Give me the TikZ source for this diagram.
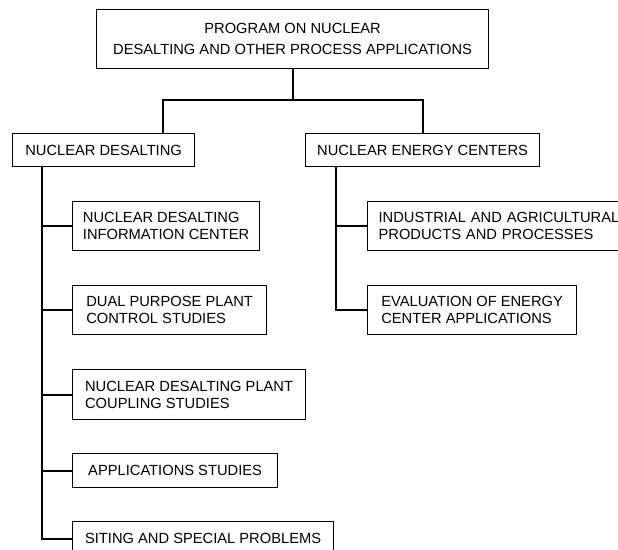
\documentclass[tikz,border=0pt]{standalone}
\usepackage{fontspec}
\setmainfont{Liberation Sans}
\tikzset{
  chartbox/.style={draw, line width=1.2pt, inner sep=0pt, align=left, anchor=north west,
    font=\fontsize{14.7}{17.3}\selectfont},
  link/.style={line width=2pt, line cap=rect},
}
\begin{document}
\begin{tikzpicture}[x=1pt, y=-1pt]
\useasboundingbox (0,0) rectangle (618,549);
% head of the programme
\node[chartbox, align=center, minimum width=392pt, minimum height=59pt, text depth=0pt,
  font=\fontsize{14.7}{21}\selectfont] (prog) at (96,9)
  {PROGRAM ON NUCLEAR\\DESALTING AND OTHER PROCESS APPLICATIONS};
% the two branches
\node[chartbox, minimum width=182pt, minimum height=33pt] (desal) at (12,133) {NUCLEAR DESALTING};
\node[chartbox, minimum width=234pt, minimum height=33pt] (nec) at (305,133) {NUCLEAR ENERGY CENTERS};
% desalting tasks
\node[chartbox, minimum width=187pt, minimum height=49pt] (info) at (72,201) {NUCLEAR DESALTING\\INFORMATION CENTER};
\node[chartbox, minimum width=194pt, minimum height=49pt] (dual) at (72,285) {DUAL PURPOSE PLANT\\CONTROL STUDIES};
\node[chartbox, minimum width=233pt, minimum height=50pt] (coupl) at (72,369) {NUCLEAR DESALTING PLANT\\COUPLING STUDIES};
\node[chartbox, minimum width=205pt, minimum height=34pt] (appl) at (72,453) {APPLICATIONS STUDIES};
\node[chartbox, minimum width=261pt, minimum height=34pt] (siting) at (72,521) {SITING AND SPECIAL PROBLEMS};
% energy center tasks
\node[chartbox, minimum width=270pt, minimum height=49pt, text width=248pt, inner xsep=11pt] (indus) at (367,201)
  {INDUSTRIAL AND AGRICULTURAL\\PRODUCTS AND PROCESSES};
\node[chartbox, minimum width=209pt, minimum height=49pt] (evalc) at (367,285) {EVALUATION OF ENERGY\\CENTER APPLICATIONS};

% connectors
\coordinate (bar) at (0,100);
\coordinate (dropL) at (163,133);
\draw[link] (prog.south) -- (prog.south |- bar);
\draw[link] (dropL) |- (nec.north |- bar) -- (nec.north);
\coordinate (spineL) at ([xshift=30pt]desal.south west);
\coordinate (spineR) at ([xshift=31pt]nec.south west);
\draw[link] (spineL) |- (siting.west);
\foreach \n in {info,dual,coupl,appl}
  \draw[link] (\n.west) -- (\n.west -| spineL);
\draw[link] (spineR) |- (evalc.west);
\draw[link] (indus.west) -- (indus.west -| spineR);
\end{tikzpicture}
\end{document}
